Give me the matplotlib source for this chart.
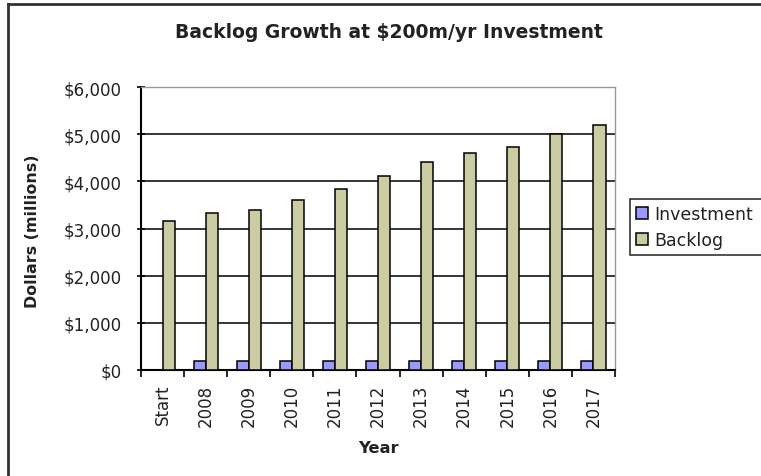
import matplotlib
matplotlib.use("Agg")
import matplotlib.pyplot as plt
from matplotlib.lines import Line2D
from matplotlib.ticker import FuncFormatter
import numpy as np

# data (millions of dollars)
years = ["Start", "2008", "2009", "2010", "2011", "2012", "2013", "2014", "2015", "2016", "2017"]
investment = [0, 200, 200, 200, 200, 200, 200, 200, 200, 200, 200]
backlog = [3150, 3320, 3400, 3600, 3840, 4120, 4400, 4600, 4720, 5000, 5200]

col_inv = "#9999FF"
col_back = "#CCCCA3"

plt.rcParams['font.family'] = ['DejaVu Sans']

fig = plt.figure(figsize=(7.61, 4.77), dpi=100)
ax = fig.add_axes([141/761, 1 - 371/477, (615 - 141)/761, (371 - 88)/477])

x = np.arange(len(years))
w = 0.28
ax.bar(x - w/2, investment, w, color=col_inv, edgecolor="black", linewidth=1.1, label="Investment", zorder=3)
ax.bar(x + w/2, backlog, w, color=col_back, edgecolor="black", linewidth=1.1, label="Backlog", zorder=3)

ax.set_xlim(-0.5, len(years) - 0.5)
ax.set_ylim(0, 6000)
ax.set_yticks(np.arange(0, 6001, 1000))
ax.yaxis.set_major_formatter(FuncFormatter(lambda v, p: "${:,.0f}".format(v)))
ax.grid(axis="y", color="black", linewidth=1.1, zorder=0)

ax.set_xticks(x)
ax.set_xticklabels(years, rotation=90)
ax.set_xticks(np.arange(-0.5, len(years), 1), minor=True)
ax.tick_params(axis="x", which="major", length=0, pad=10, labelsize=12, labelcolor="#222222")
ax.tick_params(axis="x", which="minor", length=5, width=1.2, direction="out")
ax.tick_params(axis="y", length=6, width=1.2, direction="inout", labelsize=12, pad=11, labelcolor="#222222")

for s in ["top", "right"]:
    ax.spines[s].set_color("#999999")
    ax.spines[s].set_linewidth(1.0)
for s in ["left", "bottom"]:
    ax.spines[s].set_color("black")
    ax.spines[s].set_linewidth(1.5)

ax.set_xlabel("Year", fontweight="bold", fontsize=11.8, labelpad=10, color="#222222")
ax.set_ylabel("Dollars (millions)", fontweight="bold", fontsize=11.4, color="#222222")
ax.yaxis.set_label_coords(40/761, 1 - 231/477, transform=fig.transFigure)
fig.text(389/761, 1 - 33/477, "Backlog Growth at $200m/yr Investment",
         ha="center", va="center", fontweight="bold", fontsize=13.5, color="#222222")

# legend box runs off the right edge of the picture, as in the original
leg = ax.legend(loc="upper left", bbox_to_anchor=(630/761, 1 - 258/477, 160/761, 58/477),
                bbox_transform=fig.transFigure, mode="expand",
                frameon=True, fancybox=False, edgecolor="black", fontsize=12.5,
                handlelength=0.7, handleheight=0.7, handletextpad=0.35, borderpad=0.35,
                labelspacing=0.45, borderaxespad=0)
leg.get_frame().set_linewidth(1.2)
for t in leg.get_texts():
    t.set_color("#222222")

# outer chart border (left and top edges visible)
fig.add_artist(Line2D([8/761, 8/761], [0, 1 - 5/477], transform=fig.transFigure, color="#333333", linewidth=2))
fig.add_artist(Line2D([8/761, 1], [1 - 5/477, 1 - 5/477], transform=fig.transFigure, color="#333333", linewidth=2))

fig.savefig("out.png", dpi=100)
